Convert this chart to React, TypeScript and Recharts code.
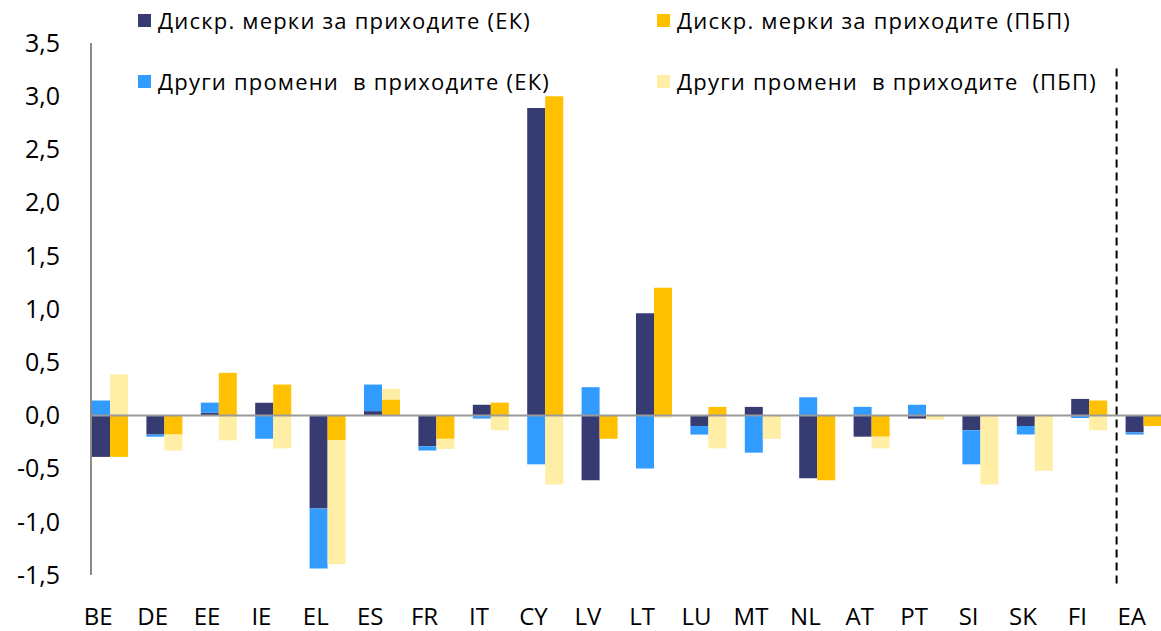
import React from 'react';
import { BarChart, Bar, XAxis, YAxis, ReferenceLine } from 'recharts';

const categories = ['BE', 'DE', 'EE', 'IE', 'EL', 'ES', 'FR', 'IT', 'CY', 'LV', 'LT', 'LU', 'MT', 'NL', 'AT', 'PT', 'SI', 'SK', 'FI', 'EA'];
const discrEK = [-0.39, -0.18, 0.025, 0.12, -0.875, 0.04, -0.29, 0.10, 2.89, -0.61, 0.96, -0.10, 0.08, -0.59, -0.20, -0.03, -0.14, -0.10, 0.155, -0.16];
const otherEK = [0.14, -0.02, 0.095, -0.22, -0.565, 0.25, -0.04, -0.03, -0.46, 0.265, -0.50, -0.08, -0.35, 0.17, 0.08, 0.10, -0.32, -0.08, -0.025, -0.02];
const discrPBP = [-0.39, -0.18, 0.40, 0.29, -0.235, 0.15, -0.22, 0.12, 3.00, -0.22, 1.20, 0.08, 0, -0.61, -0.20, 0, 0, 0, 0.14, -0.10];
const otherPBP = [0.385, -0.15, -0.235, -0.31, -1.165, 0.10, -0.095, -0.14, -0.65, 0, -0.02, -0.31, -0.22, 0, -0.11, -0.04, -0.65, -0.52, -0.14, 0];
const yTicks = [-1.5, -1.0, -0.5, 0, 0.5, 1.0, 1.5, 2.0, 2.5, 3.0, 3.5];
const legendLabels = [
  'Дискр. мерки за приходите (ЕК)',
  'Дискр. мерки за приходите (ПБП)',
  'Други промени  в приходите (ЕК)',
  'Други промени  в приходите  (ПБП)',
];
const separatorAfter = 'FI';
const separatorSpan = [3.26, -1.62];

const COLORS = ['#363B72', '#FFC000', '#319BFF', '#FFEEA5'];
const FONT = "'Open Sans', 'Noto Sans', sans-serif";

const data = categories.map((c, i) => ({
  name: c,
  dEK: discrEK[i],
  oEK: otherEK[i],
  dPBP: discrPBP[i],
  oPBP: otherPBP[i],
}));

const XTick = (props: any) => {
  const { x, y, payload } = props;
  return (
    <text x={x - 12} y={y} dy="0.71em" textAnchor="middle" fontSize={24} fontFamily={FONT} fill="#000">
      {payload.value}
    </text>
  );
};

const legendPos = [
  { left: 138, top: -2 },
  { left: 657, top: -2 },
  { left: 138, top: 59 },
  { left: 657, top: 59 },
];

export default function App() {
  return (
    <div style={{ position: 'absolute', left: 0, top: 0, width: 1161, height: 631, overflow: 'hidden', background: '#fff' }}>
      <BarChart
        width={1171}
        height={631}
        data={data}
        stackOffset="sign"
        barSize={18}
        barGap={0}
        margin={{ top: 43, right: 0, bottom: 0, left: 0 }}
      >
        <XAxis
          dataKey="name"
          padding={{ left: -8, right: 0 }}
          axisLine={false}
          tickLine={false}
          tickSize={0}
          tickMargin={33}
          height={56}
          interval={0}
          tick={<XTick />}
        />
        <YAxis
          domain={[-1.5, 3.5]}
          ticks={yTicks}
          width={91}
          axisLine={{ stroke: '#8c8c8c', strokeWidth: 2 }}
          tickLine={false}
          tickSize={0}
          tickMargin={31}
          interval={0}
          tick={{ fontSize: 25, fontFamily: FONT, fill: '#000' }}
          tickFormatter={(v: number) => v.toFixed(1).replace('.', ',')}
        />
        <Bar dataKey="dEK" stackId="ek" fill={COLORS[0]} isAnimationActive={false} />
        <Bar dataKey="oEK" stackId="ek" fill={COLORS[2]} isAnimationActive={false} />
        <Bar dataKey="dPBP" stackId="pbp" fill={COLORS[1]} isAnimationActive={false} />
        <Bar dataKey="oPBP" stackId="pbp" fill={COLORS[3]} isAnimationActive={false} />
        <ReferenceLine y={0} stroke="#9a9a9a" strokeWidth={2} />
        <ReferenceLine
          segment={[
            { x: separatorAfter, y: separatorSpan[0] },
            { x: separatorAfter, y: separatorSpan[1] },
          ]}
          position="end"
          ifOverflow="visible"
          stroke="#000"
          strokeWidth={2}
          strokeDasharray="8 5"
        />
      </BarChart>
      {legendLabels.map((label, i) => (
        <div
          key={label}
          style={{
            position: 'absolute',
            left: legendPos[i].left,
            top: legendPos[i].top,
            height: 44,
            display: 'flex',
            alignItems: 'center',
            fontFamily: FONT,
            fontSize: 22,
            letterSpacing: '1.2px',
            color: '#000',
            whiteSpace: 'pre',
          }}
        >
          <span style={{ display: 'inline-block', width: 13, height: 13, background: COLORS[i], marginRight: 7 }} />
          <span>{label}</span>
        </div>
      ))}
    </div>
  );
}
